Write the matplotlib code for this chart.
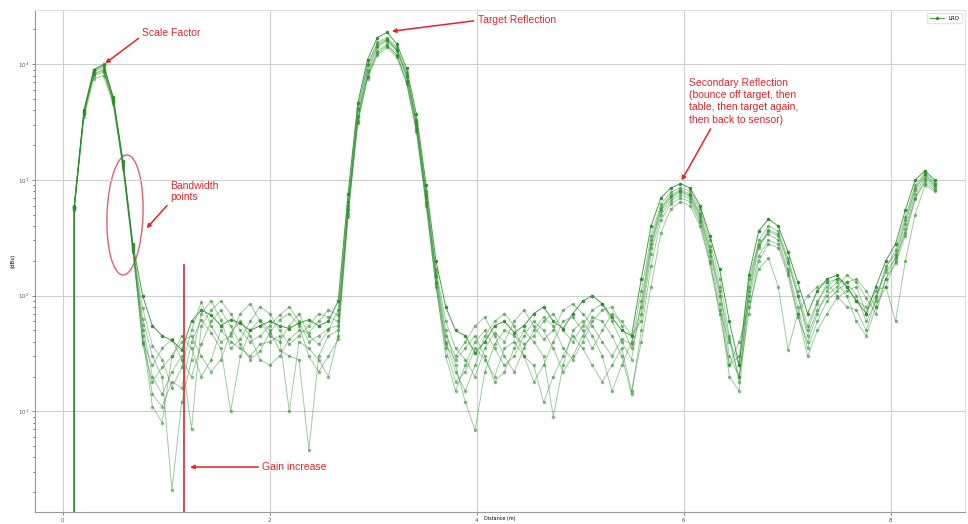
import matplotlib
matplotlib.use('Agg')
import matplotlib.pyplot as plt
import numpy as np
from matplotlib.patches import Ellipse
from matplotlib.transforms import IdentityTransform

# range bins (first bin position and bin width)
x_start = 0.11
bin_size = 0.0945
lead_in = 0.0   # sample before the first bin (clipped on log axis)

# return amplitude per bin, one list per capture
lro_a = [580, 4000, 9000, 10000, 5200, 1450, 280,
         100, 55, 45, 41, 34, 60, 75, 68, 55, 62, 58, 50, 55, 60, 55, 52, 58, 62, 55, 60, 90,
         750, 4600, 11000, 17000, 18900, 15000, 9200, 3700, 900, 200,
         80, 50, 45, 32, 40, 55, 60, 48, 55, 70, 80, 60, 52, 70, 90, 100, 85, 65, 50, 45,
         140, 400, 700, 850, 930, 850, 600, 330, 170, 60, 25, 150, 360, 460, 400, 240, 130, 70,
         110, 140, 150, 120, 90, 70, 120, 200, 280, 550, 1000, 1200, 1000]
lro_b = [560, 3800, 8200, 8800, 4800, 1350, 260,
         78, 37, 28, 16, 24, 50, 88, 55, 40, 45, 70, 85, 60, 45, 40, 55, 70, 45, 38, 50, 75,
         650, 4200, 10000, 15500, 17000, 14000, 8500, 3300, 800, 170,
         60, 35, 28, 20, 35, 48, 40, 60, 75, 55, 42, 50, 75, 85, 70, 55, 40, 30, 42, 38,
         110, 330, 620, 780, 860, 800, 560, 300, 140, 45, 18, 120, 300, 400, 360, 210, 110, 55,
         90, 120, 140, 130, 100, 60, 90, 170, 250, 480, 900, 1150, 950]
lro_c = [600, 3900, 8800, 9600, 5000, 1400, 270,
         63, 30, 20, 2.1, 12, 28, 70, 90, 62, 35, 42, 60, 80, 70, 50, 38, 45, 55, 70, 65, 60,
         600, 4000, 9800, 15000, 16500, 13500, 8200, 3200, 750, 160,
         50, 25, 12, 6.9, 22, 38, 50, 45, 38, 45, 60, 70, 50, 40, 55, 75, 85, 60, 40, 28,
         90, 300, 580, 740, 820, 760, 520, 270, 120, 30, 20, 100, 260, 360, 330, 190, 100, 45,
         75, 100, 120, 150, 130, 95, 70, 140, 220, 420, 820, 1100, 900]
lro_d = [570, 3700, 8000, 8500, 4700, 1300, 250,
         56, 20, 14, 22, 30, 7, 55, 75, 90, 70, 50, 40, 45, 55, 68, 80, 60, 40, 45, 52, 55,
         550, 3500, 8500, 14000, 16000, 13000, 7800, 3000, 700, 150,
         45, 30, 40, 55, 65, 45, 30, 22, 35, 50, 65, 55, 35, 28, 40, 60, 75, 80, 55, 35,
         70, 260, 540, 700, 780, 720, 480, 240, 100, 25, 30, 140, 280, 340, 300, 170, 80, 35,
         60, 90, 110, 130, 140, 110, 80, 120, 200, 380, 760, 1050, 880]
lro_e = [590, 3850, 8600, 9300, 4900, 1380, 265,
         50, 14, 11, 18, 16, 40, 62, 48, 35, 10, 30, 50, 62, 50, 34, 30, 28, 4.6, 30, 45, 50,
         520, 3300, 8000, 13000, 15000, 12000, 7200, 2800, 650, 130,
         40, 22, 15, 25, 45, 60, 70, 55, 30, 18, 25, 40, 60, 65, 50, 35, 50, 70, 60, 45,
         60, 230, 500, 660, 740, 690, 450, 220, 85, 20, 15, 90, 220, 300, 280, 160, 70, 30,
         50, 70, 95, 110, 120, 70, 100, 160, 210, 350, 700, 1000, 850]
lro_f = [550, 3500, 7500, 8000, 4500, 1250, 240,
         45, 11, 8, 30, 45, 35, 20, 28, 50, 40, 35, 30, 38, 40, 45, 10, 40, 35, 28, 20, 45,
         480, 3100, 7500, 12000, 14000, 11500, 6800, 2600, 600, 120,
         35, 18, 22, 35, 28, 20, 35, 40, 30, 25, 12, 20, 30, 45, 35, 25, 18, 25, 35, 15,
         40, 120, 350, 560, 650, 600, 400, 190, 70, 25, 40, 80, 170, 210, 120, 34, 70, 100,
         120, 130, 140, 120, 90, 80, 110, 120, 60, 200, 500, 900, 800]
lro_g = [575, 3750, 8300, 9000, 4850, 1320, 255,
         40, 25, 35, 42, 28, 20, 38, 60, 75, 55, 38, 28, 33, 48, 62, 70, 55, 30, 22, 30, 42,
         500, 3200, 7800, 12500, 14500, 12000, 7000, 2700, 620, 125,
         30, 15, 25, 40, 50, 35, 25, 30, 45, 60, 50, 35, 22, 30, 45, 65, 60, 45, 30, 14,
         50, 180, 450, 620, 700, 650, 430, 200, 75, 40, 20, 70, 200, 280, 260, 150, 65, 40,
         70, 110, 130, 100, 60, 45, 80, 140, 190, 330, 680, 950, 820]
lro_h = [585, 3950, 8900, 9800, 5100, 1420, 275,
         38, 18, 24, 30, 40, 45, 30, 22, 28, 48, 60, 45, 28, 25, 30, 42, 50, 48, 60, 75, 68,
         560, 3600, 9000, 14500, 16200, 13200, 8000, 3100, 720, 145,
         38, 28, 35, 45, 30, 18, 22, 35, 50, 40, 30, 9, 25, 50, 60, 45, 30, 15, 25, 40,
         80, 280, 560, 720, 800, 740, 500, 250, 110, 42, 25, 110, 270, 370, 340, 200, 100, 50,
         85, 130, 100, 80, 75, 50, 95, 180, 230, 450, 850, 1120, 920]

captures = [lro_a, lro_b, lro_c, lro_d, lro_e, lro_f, lro_g, lro_h]

red = '#e3242b'
green = '#2a8c2a'

fig = plt.figure(figsize=(9.68, 5.24), dpi=100)
ax = fig.add_axes([0.036, 0.023, 0.961, 0.958])

for i, cap in enumerate(captures):
    x = np.r_[x_start, x_start + bin_size * np.arange(len(cap))]
    y = np.r_[lead_in, cap]
    ax.plot(x, y, color=green, lw=0.7, marker='o', ms=1.6,
            alpha=0.85 if i == 0 else 0.45, label='LRO' if i == 0 else None)

ax.set_yscale('log')
ax.set_xlim(-0.27, 8.72)
ax.set_ylim(1.35, 29500)
ax.set_xticks([0, 2, 4, 6, 8])
ax.grid(True, which='major', color='#cfcfcf', lw=0.8)
ax.tick_params(labelsize=4, length=2, width=0.5, colors='#555555', pad=2)
ax.tick_params(which='minor', length=1.2, width=0.4)
for s in ['top', 'right']:
    ax.spines[s].set_color('#e0e0e0')
for s in ['left', 'bottom']:
    ax.spines[s].set_color('#999999')
ax.set_ylabel('(dBs)', fontsize=4, labelpad=2)
ax.set_xlabel('Distance (m)', fontsize=3.5, va='top')
ax.xaxis.set_label_coords(0.5, -0.009)
ax.legend(loc='upper right', fontsize=4, frameon=True, edgecolor='#dddddd',
          handlelength=2.5, borderpad=0.5)

# annotations
ax.axvline(1.17, ymin=0, ymax=0.492, color=red, lw=1.2)
ax.add_patch(Ellipse((125, 309), 36, 120, angle=-2, fill=False,
                     edgecolor='#e06070', lw=1, transform=IdentityTransform()))

arrow = dict(arrowstyle='-|>', color=red, lw=1.1, mutation_scale=6, shrinkA=1, shrinkB=0)
txt = dict(color=red, fontsize=7.5, family='Liberation Sans', ha='left', va='center')

ax.annotate('Scale Factor', xy=(0.41, 10200), xytext=(0.77, 18500),
            arrowprops=dict(arrow, relpos=(0, 0.3)), **txt)
ax.annotate('Bandwidth\npoints', xy=(0.81, 383), xytext=(1.04, 800), linespacing=1.15,
            arrowprops=dict(arrow, relpos=(0, 0)), **txt)
ax.annotate('Target Reflection', xy=(3.18, 19300), xytext=(4.01, 24000),
            arrowprops=dict(arrow, relpos=(0, 0.5)), **txt)
ax.annotate('Secondary Reflection\n(bounce off target, then\ntable, then target again,\nthen back to sensor)',
            xy=(5.98, 990), xytext=(6.05, 4790), linespacing=1.3,
            arrowprops=dict(arrow, relpos=(0.22, 0)), **txt)
ax.annotate('Gain increase', xy=(1.23, 3.3), xytext=(1.93, 3.3),
            arrowprops=dict(arrow, relpos=(0, 0.5)), **txt)

fig.savefig('out.png', dpi=100)
